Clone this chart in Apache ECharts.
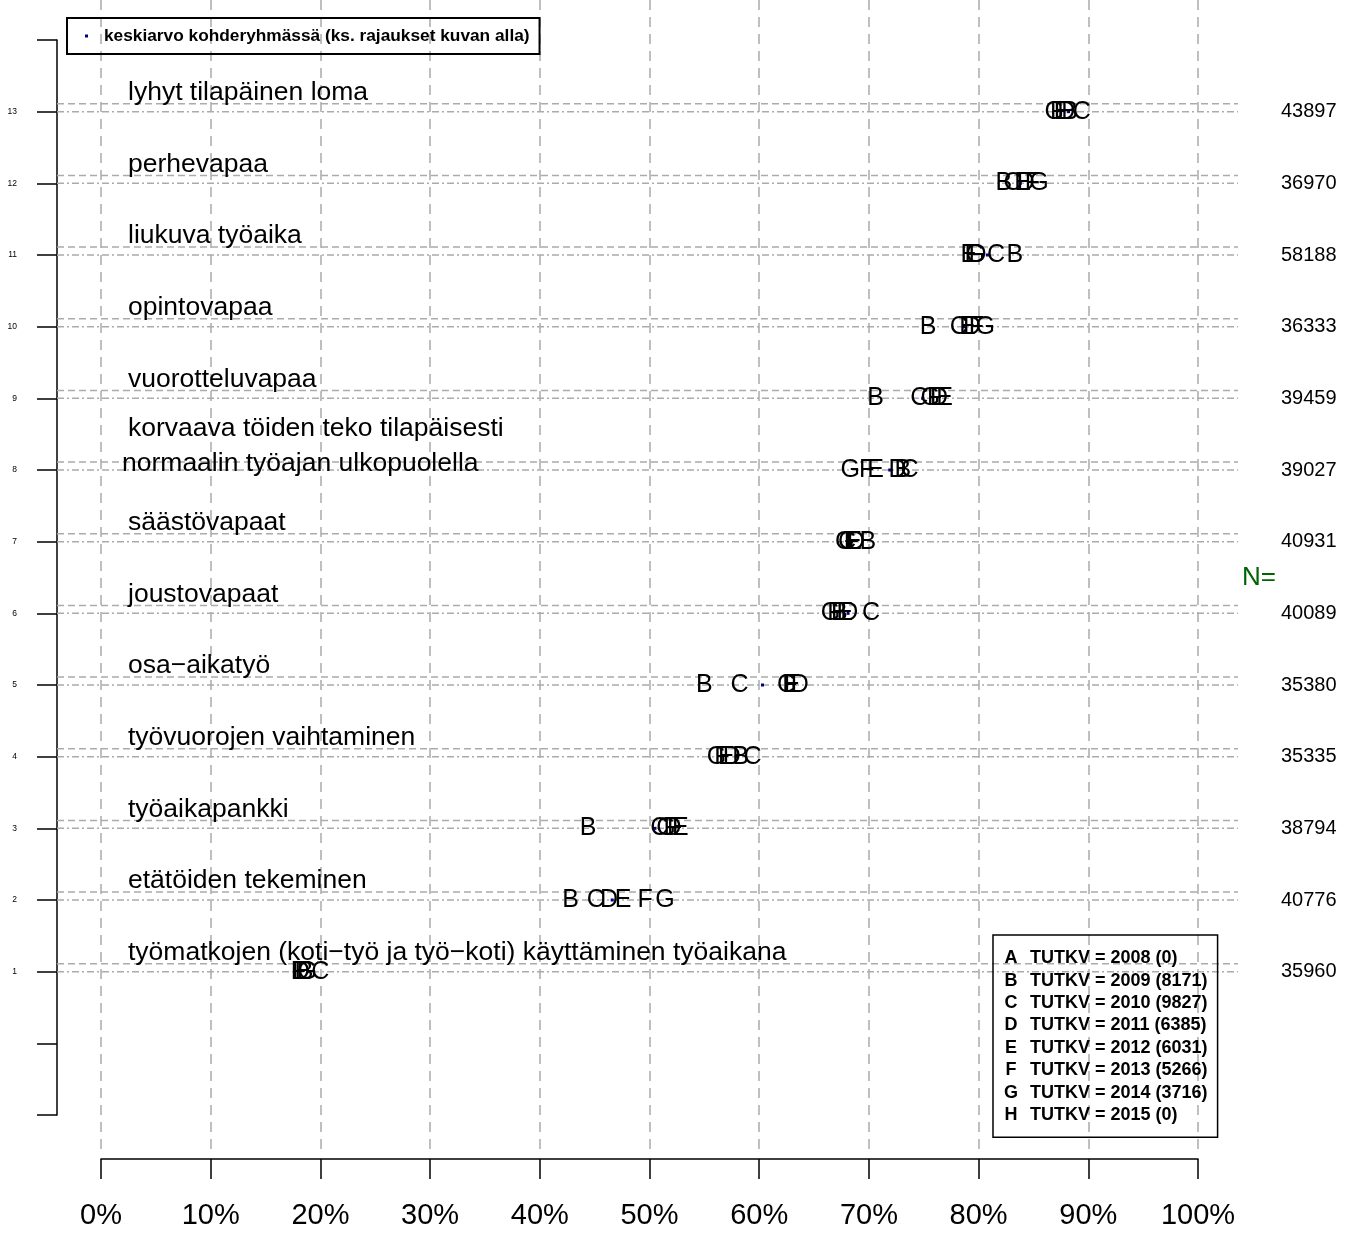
<!DOCTYPE html>
<html><head><meta charset="utf-8">
<script src="https://cdn.jsdelivr.net/npm/echarts@6/dist/echarts.min.js"></script>
<style>html,body{margin:0;padding:0;background:#fff}#c{width:1354px;height:1233px}</style>
</head><body><div id="c"></div>
<script>
// ---- data ----
const rows = [1, 2, 3, 4, 5, 6, 7, 8, 9, 10, 11, 12, 13];
const categories = [
  'työmatkojen (koti\u2212työ ja työ\u2212koti) käyttäminen työaikana',
  'etätöiden tekeminen',
  'työaikapankki',
  'työvuorojen vaihtaminen',
  'osa\u2212aikatyö',
  'joustovapaat',
  'säästövapaat',
  'korvaava töiden teko tilapäisesti\nnormaalin työajan ulkopuolella',
  'vuorotteluvapaa',
  'opintovapaa',
  'liukuva työaika',
  'perhevapaa',
  'lyhyt tilapäinen loma'
];
const nValues = [35960, 40776, 38794, 35335, 35380, 40089, 40931, 39027, 39459, 36333, 58188, 36970, 43897];
const letters = ['A', 'B', 'C', 'D', 'E', 'F', 'G', 'H'];
const years = [2008, 2009, 2010, 2011, 2012, 2013, 2014, 2015];
const groupCounts = [0, 8171, 9827, 6385, 6031, 5266, 3716, 0];
const valuesA = [];
const valuesB = [18.6, 42.8, 44.4, 58.3, 55.0, 67.3, 69.9, 73.1, 70.6, 75.4, 83.3, 82.3, 88.3];
const valuesC = [20.0, 45.1, 50.9, 59.4, 58.2, 70.2, 68.0, 73.7, 74.6, 78.2, 81.6, 83.1, 89.4];
const valuesD = [18.2, 46.3, 52.1, 57.5, 63.7, 68.2, 68.8, 72.6, 76.4, 79.4, 79.9, 84.3, 88.0];
const valuesE = [18.4, 47.6, 52.8, 57.0, 63.0, 67.8, 68.6, 70.6, 76.9, 79.0, 79.1, 84.0, 87.6];
const valuesF = [18.0, 49.6, 52.3, 56.6, 62.8, 66.9, 68.4, 69.8, 76.0, 79.8, 79.4, 84.9, 87.2];
const valuesG = [18.8, 51.4, 51.5, 56.1, 62.5, 66.5, 67.8, 68.3, 75.6, 80.6, 79.7, 85.5, 86.9];
const valuesH = [];
const meanValues = [18.9, 46.6, 50.5, 57.9, 60.3, 68.1, 68.4, 71.9, 74.9, 78.7, 80.8, 83.8, 88.2];
const meanName = 'keskiarvo kohderyhmässä (ks. rajaukset kuvan alla)';
const nTitle = 'N=';

// ---- chart ----
const FONT = "'Liberation Sans', Arial, Helvetica, sans-serif";
const GRID_GRAY = '#ababab';
const seriesValues = [valuesA, valuesB, valuesC, valuesD, valuesE, valuesF, valuesG, valuesH];

const chart = echarts.init(document.getElementById('c'), null, { renderer: 'canvas' });

const letterSeries = letters.map((L, k) => ({
  name: L,
  type: 'scatter',
  xAxisIndex: 0, yAxisIndex: 0,
  symbol: 'circle', symbolSize: 1,
  itemStyle: { color: 'rgba(0,0,0,0)', opacity: 1 },
  z: 5 + k,
  silent: true,
  label: {
    show: true, position: 'inside', formatter: L, opacity: 1,
    fontFamily: FONT, fontSize: 25, color: '#000000', textBorderWidth: 0
  },
  data: seriesValues[k].map((v, i) => [v, rows[i]])
}));

const option = {
  animation: false,
  backgroundColor: '#ffffff',
  textStyle: { fontFamily: FONT },
  grid: [
    { left: 101, right: 156, top: 40, bottom: 118, outerBoundsMode: 'none', containLabel: false },
    { left: 101, right: 156, top: 0, bottom: 81, outerBoundsMode: 'none', containLabel: false },
    { left: 57, right: 116, top: 40, bottom: 118, outerBoundsMode: 'none', containLabel: false }
  ],
  xAxis: [
    {
      gridIndex: 0, type: 'value', min: 0, max: 100, interval: 10, offset: 44, position: 'bottom',
      axisLine: { show: true, onZero: false, lineStyle: { color: '#000', width: 1.5 } },
      axisTick: { show: true, length: 20, lineStyle: { color: '#000', width: 1.5 } },
      axisLabel: { formatter: '{value}%', fontSize: 29, color: '#000', margin: 42, fontFamily: FONT },
      splitLine: { show: false }
    },
    {
      gridIndex: 1, type: 'value', min: 0, max: 100, interval: 10,
      axisLine: { show: false, onZero: false }, axisTick: { show: false }, axisLabel: { show: false },
      splitLine: { show: true, lineStyle: { color: GRID_GRAY, width: 1.5, type: [10, 7] } }
    },
    {
      gridIndex: 2, type: 'value', min: 0, max: 1, show: false, axisLine: { onZero: false }
    }
  ],
  yAxis: [
    {
      gridIndex: 0, type: 'value', min: -1, max: 14, interval: 1, offset: 44, position: 'left',
      axisLine: { show: true, onZero: false, lineStyle: { color: '#000', width: 1.5 } },
      axisTick: { show: true, length: 20, lineStyle: { color: '#000', width: 1.5 } },
      axisLabel: {
        fontSize: 8.5, color: '#000', margin: 40, fontFamily: FONT,
        formatter: v => (v >= 1 && v <= 13 ? String(v) : '')
      },
      splitLine: { show: false }
    },
    {
      gridIndex: 0, type: 'value', min: -1, max: 14, interval: 1, position: 'right',
      axisLine: { show: false, onZero: false }, axisTick: { show: false }, splitLine: { show: false },
      axisLabel: {
        fontSize: 20, color: '#000', margin: 83, fontFamily: FONT,
        formatter: v => (v >= 1 && v <= 13 ? String(nValues[rows.indexOf(v)]) : '')
      },
      name: nTitle, nameLocation: 'middle', nameRotate: 0, nameGap: 44, nameMoveOverlap: false,
      nameTextStyle: { color: '#006400', fontSize: 26, fontFamily: FONT, align: 'left', verticalAlign: 'middle' }
    },
    { gridIndex: 1, type: 'value', min: 0, max: 1, show: false, axisLine: { onZero: false } },
    { gridIndex: 2, type: 'value', min: -1, max: 14, show: false, axisLine: { onZero: false } }
  ],
  legend: [
    {
      data: [meanName], left: 67, top: 18, orient: 'horizontal',
      borderColor: '#000', borderWidth: 2, padding: [8, 10, 8, 18],
      itemWidth: 3, itemHeight: 3, icon: 'rect', selectedMode: false,
      formatter: name => '{a|' + name + '}',
      textStyle: {
        fontSize: 17.3, fontWeight: 'bold', color: '#000', fontFamily: FONT, lineHeight: 20,
        rich: { a: { fontSize: 17.3, fontWeight: 'bold', color: '#000', fontFamily: FONT, lineHeight: 20, padding: [0, 0, 0, 11] } }
      }
    },
    {
      data: letters, left: 993, top: 935, orient: 'vertical',
      borderColor: '#000', borderWidth: 1.5, padding: [12, 10, 11, 2],
      itemGap: 0, itemWidth: 0, itemHeight: 0, icon: 'rect', selectedMode: false,
      formatter: name => {
        const i = letters.indexOf(name);
        return '{l|' + name + '}{t|TUTKV = ' + years[i] + ' (' + groupCounts[i] + ')}';
      },
      textStyle: {
        fontSize: 18, fontWeight: 'bold', color: '#000', fontFamily: FONT, lineHeight: 22.4,
        rich: {
          l: { width: 22, align: 'center', fontSize: 18, fontWeight: 'bold', color: '#000', fontFamily: FONT, lineHeight: 22.4 },
          t: { padding: [0, 0, 0, 8], fontSize: 18, fontWeight: 'bold', color: '#000', fontFamily: FONT, lineHeight: 22.4 }
        }
      }
    }
  ],
  series: [
    {
      type: 'custom', xAxisIndex: 2, yAxisIndex: 3, z: 1, silent: true, clip: false,
      data: rows.map(r => [0, r]),
      renderItem: (params, api) => {
        const r = api.value(1);
        const a = api.coord([0, r]);
        const b = api.coord([1, r]);
        const up = api.coord([0, r + 0.11]);
        return {
          type: 'group',
          children: [
            { type: 'line', shape: { x1: a[0], y1: up[1], x2: b[0], y2: up[1] },
              style: { stroke: GRID_GRAY, lineWidth: 1.5, lineDash: [7, 4] } },
            { type: 'line', shape: { x1: a[0], y1: a[1], x2: b[0], y2: a[1] },
              style: { stroke: GRID_GRAY, lineWidth: 1.5, lineDash: [7, 3, 2, 3] } }
          ]
        };
      }
    },
    {
      type: 'custom', xAxisIndex: 0, yAxisIndex: 0, z: 3, silent: true, clip: false,
      data: rows.map(r => [0, r]),
      renderItem: (params, api) => {
        const r = api.value(1);
        const p = api.coord([0, r]);
        const lines = categories[params.dataIndex].split('\n');
        const n = lines.length;
        return {
          type: 'group',
          children: lines.map((t, i) => ({
            type: 'text',
            style: {
              text: t, x: p[0] + (i === 0 ? 27 : 21),
              y: p[1] - 19 - 5 * (n - 1) + (i - (n - 1) / 2) * 35,
              fill: '#000', font: '26.5px ' + FONT, align: 'left', verticalAlign: 'middle'
            }
          }))
        };
      }
    },
    {
      name: meanName, type: 'scatter', xAxisIndex: 0, yAxisIndex: 0,
      symbol: 'rect', symbolSize: 3, itemStyle: { color: '#00008B', opacity: 1 }, z: 4, silent: true,
      data: meanValues.map((v, i) => [v, rows[i]])
    }
  ].concat(letterSeries)
};
chart.setOption(option);
</script>
</body></html>
